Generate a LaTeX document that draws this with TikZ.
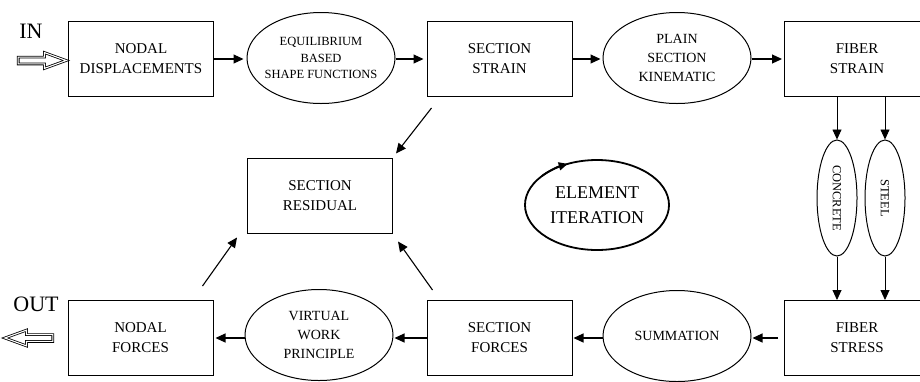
\documentclass[tikz,border=0pt]{standalone}
\usepackage{fontspec}
\setmainfont{Liberation Serif}
\usetikzlibrary{
    shapes.geometric,
    shapes.arrows,
    arrows.meta,
    calc
}
\tikzset{
    >={Triangle[length=10pt,width=9pt]},
    block/.style={
        draw, line width=1pt,
        minimum width=145pt, minimum height=75pt,
        inner sep=0pt, align=center,
        font=\fontsize{15}{20}\selectfont
    },
    oval/.style={
        draw, ellipse, line width=1pt,
        inner xsep=-8pt, inner ysep=0pt, align=center,
        minimum width=148pt, minimum height=91pt,
        font=\fontsize{14}{19}\selectfont
    },
    fiber/.style={
        oval, minimum width=40pt, minimum height=116pt,
        font=\fontsize{12.5}{15}\selectfont
    },
    hollow/.style={
        single arrow, draw, double, double distance=1.1pt, line width=0.8pt,
        inner sep=3pt, single arrow head extend=4.5pt,
        single arrow tip angle=40, minimum height=48pt
    },
    io/.style={font=\fontsize{22}{24}\selectfont, inner sep=0pt}
}

\begin{document}
\begin{tikzpicture}[
    x=1pt, y=-1pt,
    flow/.style={->, line width=1.1pt}
]

    \useasboundingbox (0,0) rectangle (920,381);

    % Entrada y salida
    \node[io]             (in)     at (31,31)    {IN};
    \node[hollow]         (inarr)  at (37.5,60.5) {};
    \node[io]             (out)    at (36,304)   {OUT};
    \node[hollow, shape border rotate=180] (outarr) at (33.5,338) {};

    % Fila superior
    \node[block] (nd)  at (141,59)   {NODAL\\DISPLACEMENTS};
    \node[oval, font=\fontsize{12.5}{16.5}\selectfont]
                 (eq)  at (321,58)   {EQUILIBRIUM\\BASED\\SHAPE FUNCTIONS};
    \node[block] (ss)  at (499.5,59) {SECTION\\STRAIN};
    \node[oval]  (pk)  at (677,58)   {PLAIN\\SECTION\\KINEMATIC};
    \node[block] (fs)  at (857,59)   {FIBER\\STRAIN};

    % Materiales
    \node[fiber] (conc)  at (837,198) {\rotatebox{-90}{CONCRETE}};
    \node[fiber] (steel) at (885,198) {\rotatebox{-90}{STEEL}};

    % Fila inferior
    \node[block] (fst) at (857,338)   {FIBER\\STRESS};
    \node[oval]  (sm)  at (677,336)   {SUMMATION};
    \node[block] (sf)  at (499.5,338) {SECTION\\FORCES};
    \node[oval]  (vw)  at (319,335)   {VIRTUAL\\WORK\\PRINCIPLE};
    \node[block] (nf)  at (140.5,338) {NODAL\\FORCES};

    % Centro
    \node[block] (sr)   at (320,195.5) {SECTION\\RESIDUAL};
    \node[oval, line width=1.8pt, minimum width=144pt, minimum height=90pt,
          font=\fontsize{18}{25}\selectfont]
                 (iter) at (597,205)   {ELEMENT\\ITERATION};
    \draw[line width=1.8pt, -{Triangle[length=9pt,width=8pt]}]
        ($(iter.center)+(140:72pt and 45pt)$)
        arc[start angle=140, end angle=114, x radius=72pt, y radius=45pt];

    % Flechas fila superior
    \draw[flow, shorten >=3pt] (nd.east) -- (eq.west |- nd.east);
    \draw[flow, shorten >=3pt] (eq.east |- ss.west) -- (ss.west);
    \draw[flow, shorten >=2pt] (ss.east) -- (pk.west |- ss.east);
    \draw[flow, shorten >=2pt] (pk.east |- fs.west) -- (fs.west);

    % Flechas verticales
    \draw[flow, line width=0.9pt] (fs.south -| conc)  -- (conc.north);
    \draw[flow, line width=0.9pt] (fs.south -| steel) -- (steel.north);
    \draw[flow, line width=0.9pt] (conc.south)  -- (conc.south |- fst.north);
    \draw[flow, line width=0.9pt] (steel.south) -- (steel.south |- fst.north);

    % Flechas fila inferior
    \draw[flow, shorten <=6pt, shorten >=1pt] (fst.west) -- (sm.east |- fst.west);
    \draw[flow, shorten >=1pt] (sm.west |- sf.east) -- (sf.east);
    \draw[flow, shorten >=1pt] (sf.west) -- (vw.east |- sf.west);
    \draw[flow, shorten >=2pt] (vw.west |- nf.east) -- (nf.east);

    % Hacia el residuo
    \draw[flow] ([xshift=5pt,yshift=-11pt]ss.south west)
        -- ([xshift=3pt,yshift=4pt]sr.north east);
    \draw[flow] ([xshift=6pt,yshift=10pt]sf.north west)
        -- ([xshift=5pt,yshift=-8pt]sr.south east);
    \draw[flow] ([xshift=-11pt,yshift=14pt]nf.north east)
        -- ([xshift=-10pt,yshift=-4pt]sr.south west);

\end{tikzpicture}
\end{document}
